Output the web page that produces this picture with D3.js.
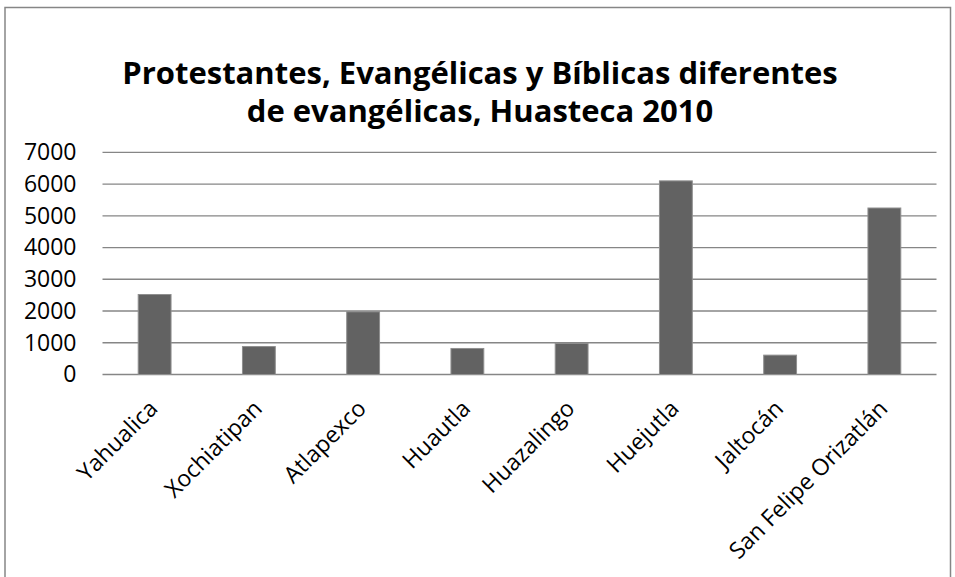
<!DOCTYPE html>
<html>
<head>
<meta charset="utf-8">
<script src="https://cdn.jsdelivr.net/npm/d3@7"></script>
<style>
  body { margin: 0; background: #fff; }
  text { font-family: "Open Sans", sans-serif; fill: #000; }
</style>
</head>
<body>
<svg id="chart"></svg>
<script>
// datos
const municipios = ["Yahualica", "Xochiatipan", "Atlapexco", "Huautla", "Huazalingo", "Huejutla", "Jaltocán", "San Felipe Orizatlán"];
const poblacion = [2520, 880, 1975, 820, 980, 6100, 610, 5245];
const yTicks = [0, 1000, 2000, 3000, 4000, 5000, 6000, 7000];
const titulo = ["Protestantes, Evangélicas y Bíblicas diferentes", "de evangélicas, Huasteca 2010"];

const width = 955;
const height = 577;
const plot = {left: 102.5, right: 936.5, top: 152.3, bottom: 374.5};

var svg = d3.select("#chart")
            .attr("width", width)
            .attr("height", height);

// marco
svg.append("rect")
    .attr("x", 5).attr("y", 7.5)
    .attr("width", 945.5).attr("height", 600)
    .attr("fill", "none")
    .attr("stroke", "#868686")
    .attr("stroke-width", 1.5);

// titulo
svg.selectAll("text.titulo")
    .data(titulo)
    .enter().append("text")
    .attr("class", "titulo")
    .attr("x", 480)
    .attr("y", function(d, i) {return 84 + i * 38;})
    .attr("text-anchor", "middle")
    .style("font-weight", "bold")
    .style("font-size", "31px")
    .text(function(d) {return d;});

var x = d3.scaleBand()
            .domain(municipios)
            .range([plot.left, plot.right])
            .paddingInner(0.685)
            .paddingOuter(0.3425);

var y = d3.scaleLinear()
            .domain([0, 7000])
            .range([plot.bottom, plot.top]);

// lineas de la cuadricula
svg.append("g")
    .selectAll("line")
    .data(yTicks)
    .enter().append("line")
    .attr("x1", plot.left).attr("x2", plot.right)
    .attr("y1", function(d) {return y(d);})
    .attr("y2", function(d) {return y(d);})
    .attr("stroke", "#868686")
    .attr("stroke-width", 1.3);

// eje y
var yAxis = svg.append("g")
    .attr("transform", "translate(" + (plot.left - 26) + ",0)")
    .call(d3.axisLeft(y).tickValues(yTicks).tickFormat(d3.format("d")).tickSize(0).tickPadding(0));
yAxis.select(".domain").remove();
yAxis.selectAll("text")
    .style("font-size", "23px")
    .style("font-family", "'Open Sans', sans-serif")
    .attr("fill", "#000");

// barras
svg.append("g")
    .selectAll("rect")
    .data(poblacion)
    .enter().append("rect")
    .attr("x", function(d, i) {return x(municipios[i]);})
    .attr("y", function(d) {return y(d);})
    .attr("width", x.bandwidth())
    .attr("height", function(d) {return y(0) - y(d);})
    .attr("fill", "#626262")
    .attr("stroke", "#8f8f8f")
    .attr("stroke-width", 1);

// etiquetas del eje x
svg.append("g")
    .selectAll("text")
    .data(municipios)
    .enter().append("text")
    .attr("text-anchor", "end")
    .style("font-size", "23px")
    .attr("transform", function(d) {
        return "translate(" + (x(d) + x.bandwidth() / 2 + 4.5) + ",410) rotate(-45)";
    })
    .text(function(d) {return d;});
</script>
</body>
</html>
